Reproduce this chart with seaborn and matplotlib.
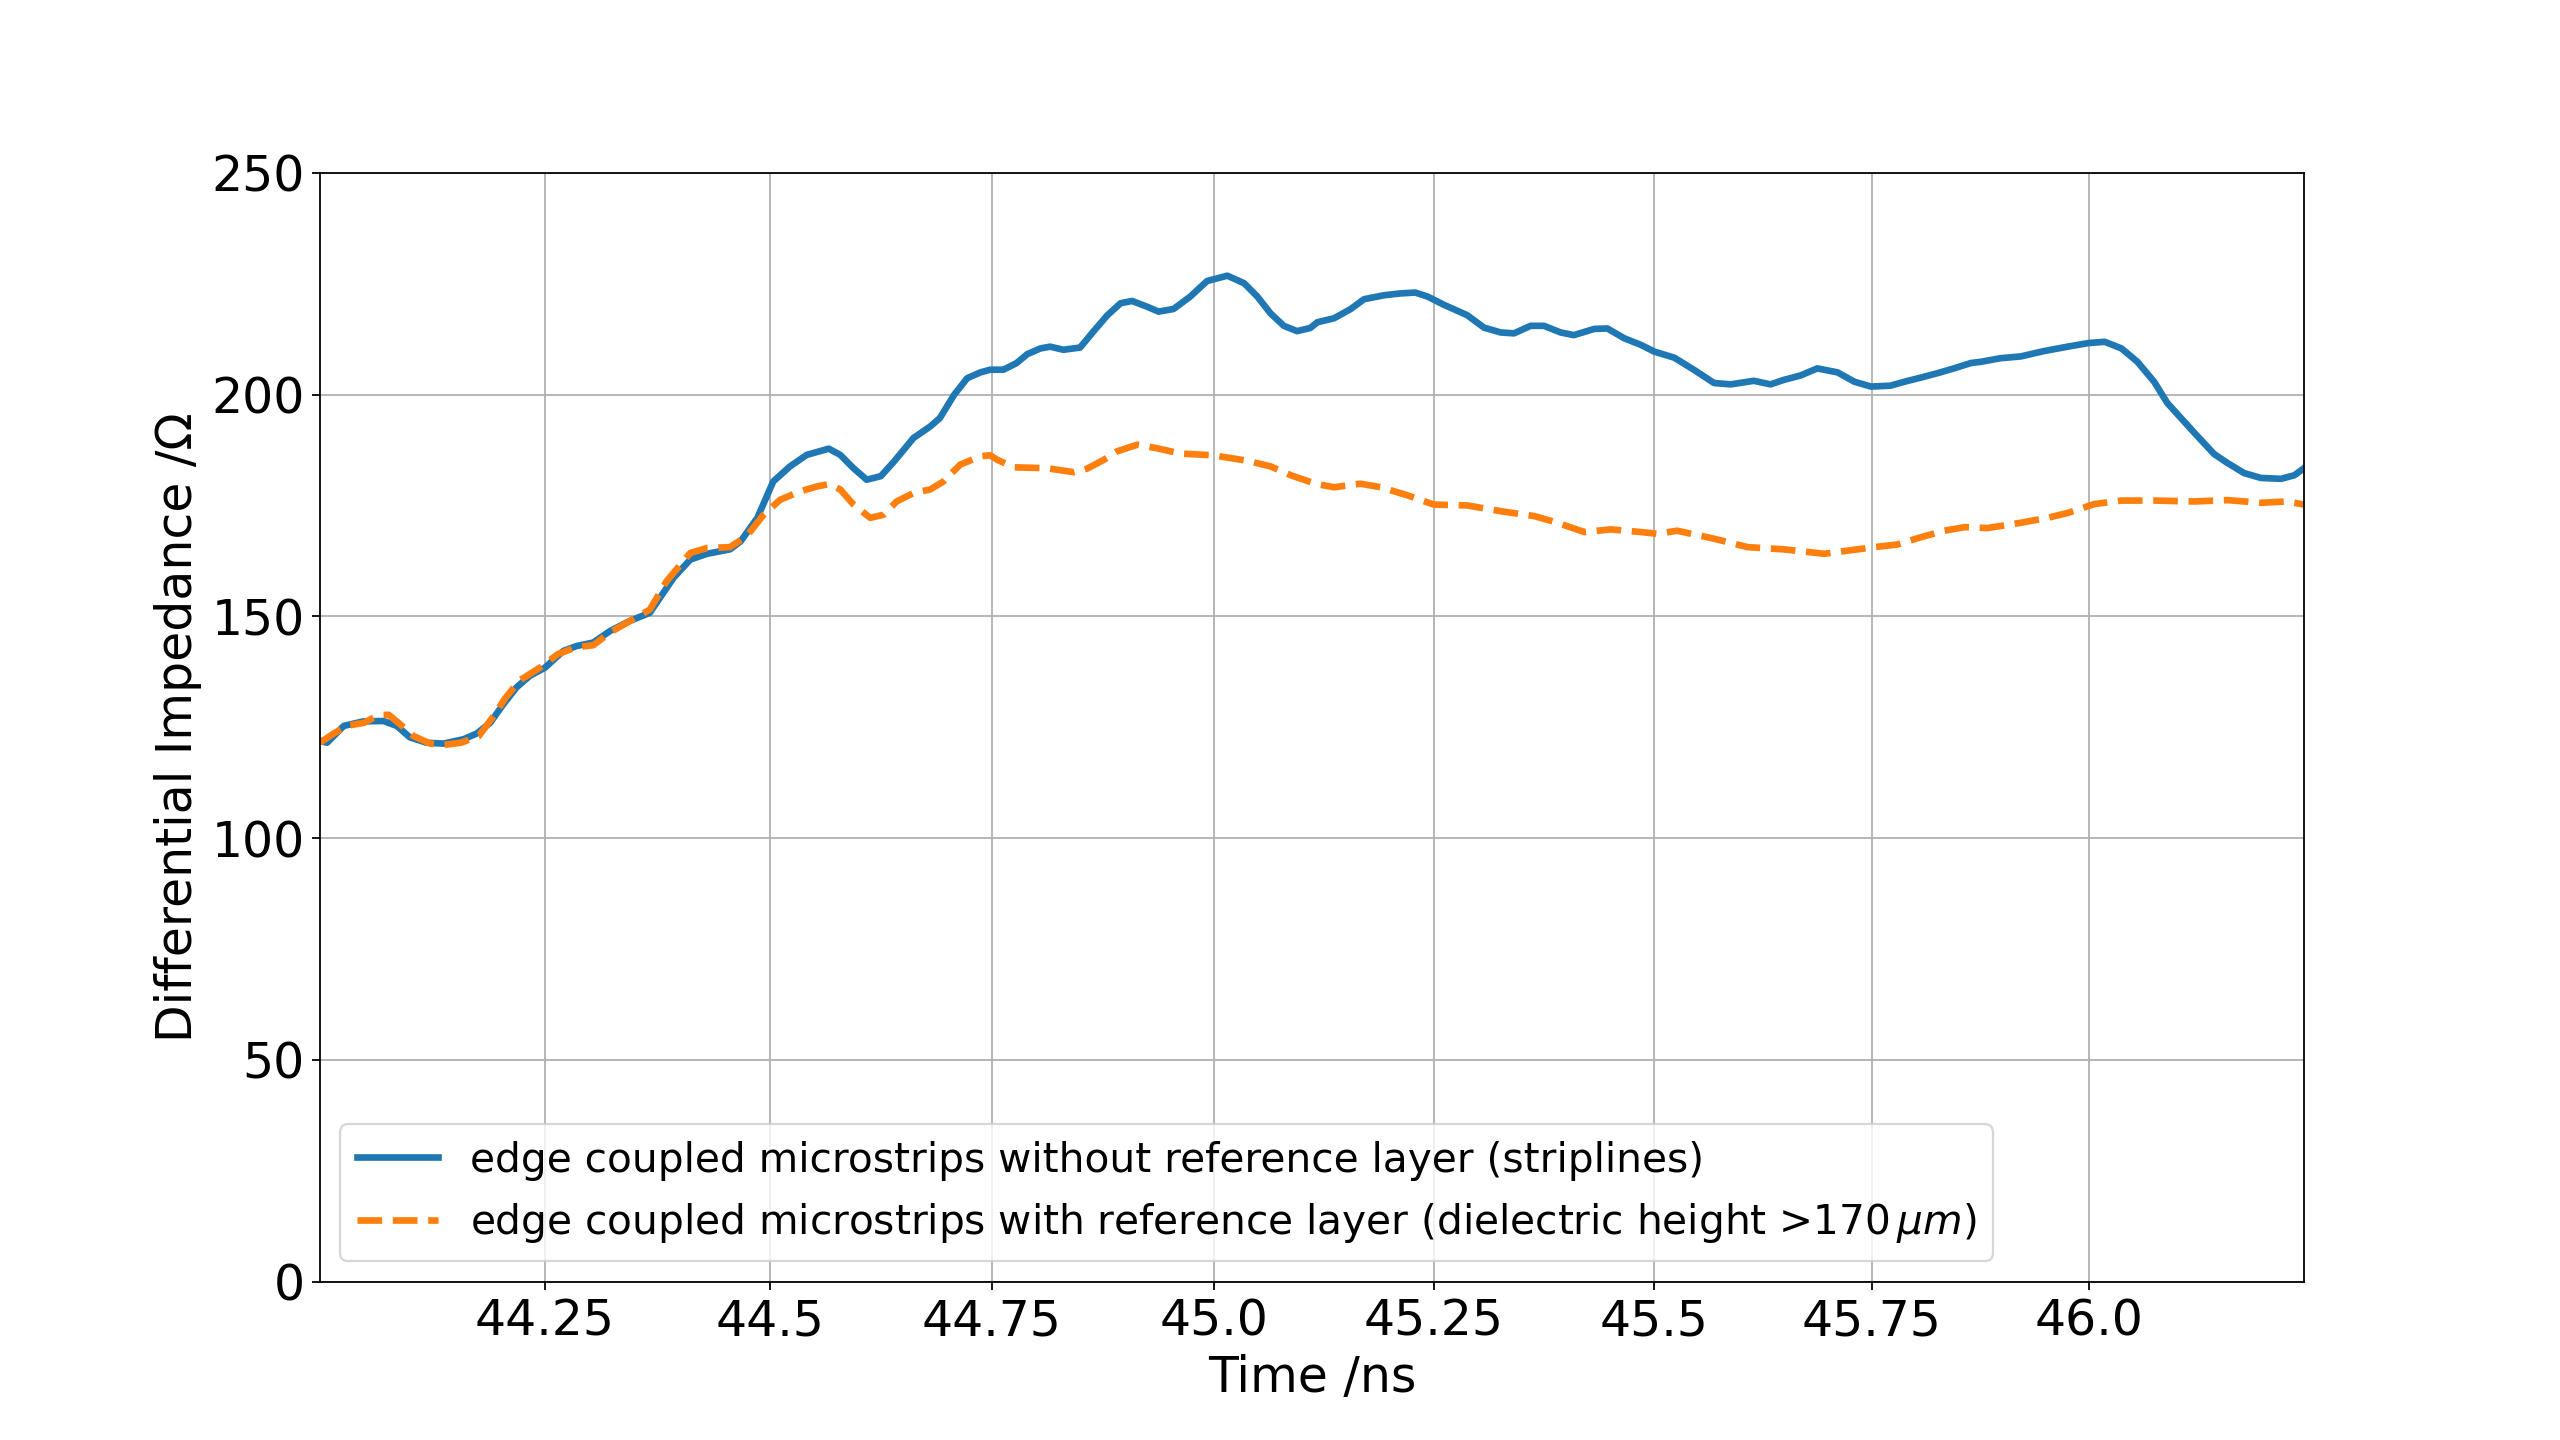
import numpy as np
import matplotlib
matplotlib.use("Agg")
import matplotlib.pyplot as plt
import seaborn as sns

# values (time in ns, impedance in Ohm)
t_strip = [44.000, 44.008, 44.027, 44.049, 44.072, 44.087, 44.102, 44.121, 44.140, 44.163,
           44.178, 44.193, 44.208, 44.223, 44.238, 44.255, 44.276, 44.291, 44.310, 44.329,
           44.352, 44.374, 44.401, 44.420, 44.439, 44.465, 44.477, 44.496, 44.514, 44.533,
           44.552, 44.577, 44.590, 44.605, 44.620, 44.636, 44.651, 44.673, 44.692, 44.703,
           44.719, 44.734, 44.749, 44.760, 44.775, 44.790, 44.802, 44.817, 44.828, 44.843,
           44.862, 44.877, 44.893, 44.908, 44.921, 44.938, 44.951, 44.968, 44.987, 45.006,
           45.029, 45.048, 45.063, 45.078, 45.093, 45.108, 45.123, 45.131, 45.150, 45.169,
           45.184, 45.207, 45.225, 45.242, 45.256, 45.275, 45.301, 45.320, 45.339, 45.354,
           45.373, 45.388, 45.407, 45.422, 45.445, 45.460, 45.479, 45.498, 45.513, 45.536,
           45.558, 45.581, 45.600, 45.626, 45.645, 45.660, 45.679, 45.698, 45.721, 45.740,
           45.759, 45.781, 45.797, 45.815, 45.834, 45.853, 45.872, 45.884, 45.906, 45.929,
           45.955, 45.982, 46.005, 46.024, 46.043, 46.061, 46.080, 46.095, 46.126, 46.148,
           46.163, 46.182, 46.201, 46.224, 46.239, 46.250]
z_strip = [121.9, 121.5, 125.3, 126.3, 126.4, 125.3, 122.7, 121.5, 121.3, 122.3,
           123.6, 126.0, 130.2, 134.0, 136.6, 138.4, 142.2, 143.3, 144.1, 146.7,
           149.0, 150.8, 158.7, 162.8, 164.1, 165.1, 166.9, 172.2, 180.4, 183.8,
           186.4, 187.8, 186.4, 183.4, 180.8, 181.6, 184.9, 190.2, 192.8, 194.7,
           199.9, 203.7, 205.0, 205.6, 205.6, 207.1, 209.1, 210.4, 210.8, 210.1,
           210.6, 214.2, 217.9, 220.6, 221.1, 219.8, 218.7, 219.3, 222.1, 225.6,
           226.8, 225.1, 222.1, 218.3, 215.5, 214.3, 215.0, 216.3, 217.2, 219.3,
           221.5, 222.4, 222.8, 223.0, 222.1, 220.2, 217.9, 215.1, 214.0, 213.8,
           215.5, 215.5, 214.0, 213.4, 214.8, 214.9, 212.7, 211.2, 209.7, 208.3,
           205.6, 202.6, 202.3, 203.1, 202.3, 203.3, 204.3, 205.9, 205.0, 202.9,
           201.8, 202.0, 202.9, 203.8, 204.8, 205.9, 207.1, 207.4, 208.2, 208.6,
           209.8, 210.8, 211.6, 211.9, 210.4, 207.4, 202.9, 198.1, 191.3, 186.6,
           184.6, 182.3, 181.2, 181.0, 181.8, 183.4]

t_ref = [44.000, 44.015, 44.030, 44.050, 44.066, 44.078, 44.090, 44.106, 44.125, 44.140,
         44.160, 44.180, 44.195, 44.210, 44.226, 44.250, 44.270, 44.290, 44.310, 44.330,
         44.352, 44.374, 44.393, 44.420, 44.439, 44.465, 44.484, 44.503, 44.522, 44.545,
         44.564, 44.577, 44.590, 44.605, 44.624, 44.639, 44.654, 44.673, 44.692, 44.707,
         44.726, 44.749, 44.760, 44.768, 44.787, 44.824, 44.855, 44.870, 44.889, 44.904,
         44.927, 44.949, 44.976, 45.013, 45.051, 45.078, 45.101, 45.123, 45.131, 45.150,
         45.180, 45.203, 45.233, 45.263, 45.301, 45.339, 45.377, 45.400, 45.434, 45.464,
         45.498, 45.517, 45.539, 45.581, 45.619, 45.660, 45.706, 45.736, 45.763, 45.789,
         45.815, 45.842, 45.865, 45.891, 45.929, 45.959, 45.982, 46.012, 46.043, 46.080,
         46.126, 46.163, 46.201, 46.231, 46.250]
z_ref = [121.5, 123.5, 125.3, 126.0, 127.7, 127.8, 125.8, 123.0, 121.3, 121.0,
         121.5, 123.0, 127.0, 131.5, 135.5, 138.5, 141.5, 143.0, 143.5, 146.5,
         149.0, 151.5, 157.9, 164.3, 165.4, 165.6, 168.1, 172.9, 176.3, 178.2,
         179.3, 179.8, 178.6, 175.2, 172.2, 172.9, 175.9, 177.8, 178.6, 180.4,
         184.2, 186.1, 186.3, 185.3, 183.6, 183.4, 182.5, 183.3, 185.3, 187.2,
         188.7, 187.9, 186.7, 186.3, 185.1, 183.8, 181.8, 180.3, 179.8, 179.1,
         179.9, 179.1, 177.3, 175.2, 175.0, 173.7, 172.6, 171.3, 169.0, 169.6,
         169.0, 168.6, 169.3, 167.5, 165.6, 165.1, 164.1, 164.9, 165.6, 166.2,
         167.8, 169.3, 170.1, 169.9, 171.1, 172.2, 173.3, 175.3, 176.1, 176.1,
         175.9, 176.2, 175.6, 175.9, 175.2]

# tick positions as they sit in the reference, with its rounded labels
xticks = [44.255, 44.510, 44.762, 45.014, 45.263, 45.513, 45.760, 46.006]
xtick_labels = ["44.25", "44.5", "44.75", "45.0", "45.25", "45.5", "45.75", "46.0"]

label_strip = "edge coupled microstrips without reference layer (striplines)"
label_ref = r"edge coupled microstrips with reference layer (dielectric height >170$\,\mu m$)"

plt.rcParams["font.size"] = 22

fig, ax = plt.subplots(figsize=(16, 9))

sns.lineplot(x=t_strip, y=z_strip, ax=ax, color="#1f77b4", linewidth=3,
             label=label_strip)
sns.lineplot(x=t_ref, y=z_ref, ax=ax, color="#ff7f0e", linewidth=3,
             linestyle="--", label=label_ref)

ax.set_xlim(44.0, 46.25)
ax.set_ylim(0, 250)
ax.set_xticks(xticks)
ax.set_xticklabels(xtick_labels)
ax.set_yticks([0, 50, 100, 150, 200, 250])
ax.grid(True)
ax.set_xlabel("Time /ns")
ax.set_ylabel("Differential Impedance /Ω")
ax.legend(loc="lower left", fontsize=18.3)

fig.savefig("out.png", dpi=160)
